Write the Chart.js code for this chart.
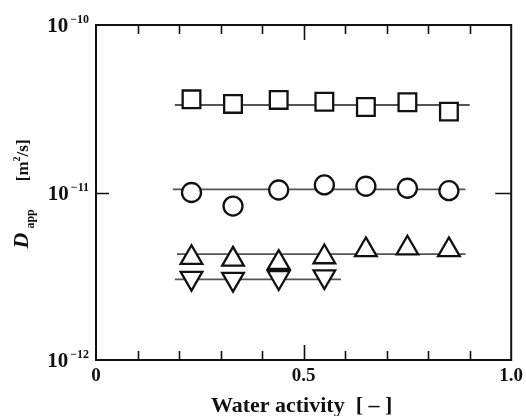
<!DOCTYPE html>
<html>
<head>
<meta charset="utf-8">
<script src="https://cdn.jsdelivr.net/npm/chart.js@4.4.1/dist/chart.umd.min.js"></script>
<style>
  html, body { margin: 0; padding: 0; background: #fff; }
  #wrap { width: 526px; height: 416px; }
</style>
</head>
<body>
<div id="wrap"><canvas id="chart" width="526" height="416"></canvas></div>
<script>
// measured points (water activity vs apparent diffusivity)
const waterActivity = [0.23, 0.33, 0.44, 0.55, 0.65, 0.75, 0.85];
const squareD = [3.60e-11, 3.38e-11, 3.57e-11, 3.48e-11, 3.24e-11, 3.46e-11, 3.04e-11];
const circleD = [1.00e-11, 8.3e-12, 1.035e-11, 1.11e-11, 1.09e-11, 1.06e-11, 1.025e-11];
const triUpD = [4.08e-12, 3.99e-12, 3.81e-12, 4.12e-12, 4.54e-12, 4.65e-12, 4.54e-12];
const triDownAw = [0.23, 0.33, 0.44, 0.55];
const triDownD = [3.08e-12, 3.04e-12, 3.11e-12, 3.15e-12];

// horizontal mean lines
const squareFitAw = [0.19, 0.90];
const squareFitD = 3.33e-11;
const circleFitAw = [0.185, 0.89];
const circleFitD = 1.045e-11;
const triUpFitAw = [0.195, 0.89];
const triUpFitD = 4.29e-12;
const triDownFitAw = [0.19, 0.59];
const triDownFitD = 3.03e-12;

// axis ticks
const xTickMarks = [0.1, 0.2, 0.3, 0.4, 0.5, 0.6, 0.7, 0.8, 0.9];
const xLabelValues = [0, 0.5, 1.0];
const xLabels = ['0', '0.5', '1.0'];
const yLabelValues = [1e-12, 1e-11, 1e-10];
const yLabelExps = ['\u221212', '\u221211', '\u221210'];
const yTickMarks = [1e-11];

const SERIF = '"Liberation Serif", "Times New Roman", serif';

function pts(xs, ys) {
    return xs.map((v, i) => ({x: v, y: ys[i]}))
}
function flat(xs, level) {
    return xs.map(v => ({x: v, y: level}))
}

function markers(data, style, radius, rotation) {
    return {
        data: data,
        pointStyle: style,
        pointRadius: radius,
        pointRotation: rotation || 0,
        pointBorderColor: '#111',
        pointBackgroundColor: '#fff',
        pointBorderWidth: 2.3,
        showLine: false,
        order: 0
    }
}
function fitLine(data) {
    return {
        data: data,
        showLine: true,
        pointRadius: 0,
        borderColor: '#555',
        borderWidth: 1.8,
        order: 1
    }
}

const framePlugin = {
    id: 'frame',
    afterDraw(chart) {
        const ctx = chart.ctx
        const a = chart.chartArea
        const x = chart.scales.x
        const y = chart.scales.y
        ctx.save()
        ctx.strokeStyle = '#111'
        ctx.lineWidth = 2
        ctx.strokeRect(a.left, a.top, a.right - a.left, a.bottom - a.top)

        // inward tick marks
        ctx.lineWidth = 1.6
        ctx.beginPath()
        xTickMarks.forEach(v => {
            const px = Math.round(x.getPixelForValue(v)) + 0.5
            const len = v === 0.5 ? 15 : 9
            ctx.moveTo(px, a.bottom); ctx.lineTo(px, a.bottom - len)
            ctx.moveTo(px, a.top); ctx.lineTo(px, a.top + len)
        })
        yTickMarks.forEach(v => {
            const py = Math.round(y.getPixelForValue(v)) + 0.5
            ctx.moveTo(a.left, py); ctx.lineTo(a.left + 13, py)
            ctx.moveTo(a.right, py); ctx.lineTo(a.right - 16, py)
        })
        ctx.stroke()

        ctx.fillStyle = '#111'
        // x tick labels
        ctx.font = '700 19px ' + SERIF
        ctx.textAlign = 'center'
        ctx.textBaseline = 'middle'
        xLabelValues.forEach((v, i) => {
            ctx.fillText(xLabels[i], x.getPixelForValue(v), a.bottom + 16)
        })

        // y tick labels 10^n
        yLabelValues.forEach((v, i) => {
            const py = y.getPixelForValue(v)
            const right = a.left - 7
            ctx.textAlign = 'right'
            ctx.font = '700 12px ' + SERIF
            const ew = ctx.measureText(yLabelExps[i]).width
            ctx.fillText(yLabelExps[i], right, py - 5)
            ctx.font = '700 21px ' + SERIF
            ctx.fillText('10', right - ew - 2, py + 2)
        })

        // x title
        ctx.textAlign = 'center'
        ctx.font = '700 22px ' + SERIF
        ctx.fillText('Water activity  [ \u2013 ]', (a.left + a.right) / 2 - 2, a.bottom + 46)

        // y title, rotated
        const cy = (a.top + a.bottom) / 2
        ctx.translate(28, cy + 56)
        ctx.rotate(-Math.PI / 2)
        ctx.textAlign = 'left'
        ctx.textBaseline = 'alphabetic'
        ctx.font = 'italic 700 22px ' + SERIF
        ctx.fillText('D', 0, 0)
        let cx = ctx.measureText('D').width + 4
        ctx.font = '700 12px ' + SERIF
        ctx.fillText('app', cx, 6)
        cx += ctx.measureText('app').width + 28
        ctx.font = '700 17px ' + SERIF
        ctx.fillText('[m', cx, 0)
        cx += ctx.measureText('[m').width
        ctx.font = '700 10px ' + SERIF
        ctx.fillText('2', cx, -8)
        cx += ctx.measureText('2').width
        ctx.font = '700 17px ' + SERIF
        ctx.fillText('/s]', cx, 0)
        ctx.restore()
    }
}

const ctx = document.getElementById('chart').getContext('2d')
const chart = new Chart(ctx, {
    type: 'scatter',
    data: {
        datasets: [
            markers(pts(waterActivity, squareD), 'rect', 12.5),
            markers(pts(waterActivity, circleD), 'circle', 9.5),
            markers(pts(waterActivity, triUpD), 'triangle', 12.5),
            markers(pts(triDownAw, triDownD), 'triangle', 12.5, 180),
            fitLine(flat(squareFitAw, squareFitD)),
            fitLine(flat(circleFitAw, circleFitD)),
            fitLine(flat(triUpFitAw, triUpFitD)),
            fitLine(flat(triDownFitAw, triDownFitD))
        ]
    },
    options: {
        responsive: false,
        animation: false,
        events: [],
        layout: {
            padding: {left: 96, top: 25, right: 13, bottom: 56}
        },
        scales: {
            x: {type: 'linear', min: 0, max: 1, display: false},
            y: {type: 'logarithmic', min: 1e-12, max: 1e-10, display: false}
        },
        plugins: {
            legend: {display: false},
            tooltip: {enabled: false}
        }
    },
    plugins: [framePlugin]
})
</script>
</body>
</html>
